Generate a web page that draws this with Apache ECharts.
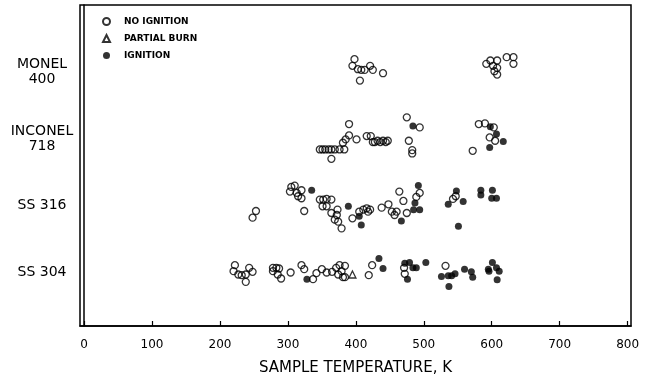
<!DOCTYPE html>
<html><head><meta charset="utf-8">
<script src="https://cdn.jsdelivr.net/npm/echarts@6/dist/echarts.min.js"></script>
<style>html,body{margin:0;padding:0;background:#fff}#c{width:653px;height:381px}</style>
</head><body><div id="c"></div>
<script>
// Row positions: 1 = SS 304, 2 = SS 316, 3 = INCONEL 718, 4 = MONEL 400 (fractional part = vertical scatter of the plotted symbol)
const categories = ['SS 304', 'SS 316', 'INCONEL\n718', 'MONEL\n400'];
const categoryRows = [1, 2, 3, 4];
const xTicks = [0, 100, 200, 300, 400, 500, 600, 700, 800];
const xTitle = 'SAMPLE TEMPERATURE, K';
const legendNames = ['NO IGNITION', 'PARTIAL BURN', 'IGNITION'];

// [temperature K, row]
const noIgnition = [
  // MONEL 400
  [398,4.19],[395,4.09],[403,4.04],[408,4.03],[413,4.03],[421,4.09],[425,4.03],[406,3.87],[440,3.98],
  [592,4.12],[598,4.17],[608,4.17],[602,4.09],[608,4.06],[604,4.01],[608,3.96],[622,4.22],[632,4.22],[632,4.12],
  // INCONEL 718
  [347,2.84],[351,2.84],[355,2.84],[360,2.84],[364,2.84],[369,2.84],[376,2.84],[383,2.84],
  [364,2.70],[381,2.94],[385,2.99],[390,3.05],[401,2.99],[390,3.22],[416,3.04],[422,3.04],[425,2.95],
  [428,2.95],[432,2.97],[436,2.95],[440,2.97],[444,2.95],[447,2.97],
  [475,3.32],[494,3.17],[478,2.97],[483,2.83],[483,2.78],
  [581,3.22],[590,3.23],[603,3.17],[597,3.02],[605,2.97],[572,2.82],
  // SS 316
  [248,1.82],[253,1.92],
  [305,2.28],[310,2.30],[303,2.21],[313,2.19],[320,2.23],[315,2.14],[320,2.11],[324,1.92],
  [347,2.09],[352,2.09],[357,2.10],[364,2.09],[351,1.99],[357,1.99],[364,1.89],[369,1.79],[374,1.76],
  [379,1.66],[373,1.94],[372,1.86],
  [395,1.81],[405,1.91],[411,1.94],[416,1.96],[421,1.94],[418,1.91],[438,1.97],[448,2.02],[453,1.91],
  [460,1.91],[457,1.86],[464,2.21],[470,2.07],[475,1.89],[494,2.19],[489,2.13],[543,2.10],[547,2.14],
  // SS 304
  [222,1.11],[220,1.02],[227,0.97],[232,0.96],[238,0.97],[243,1.07],[248,1.01],[238,0.86],
  [278,1.07],[283,1.07],[278,1.02],[287,1.06],[285,0.97],[290,0.91],[304,1.00],[320,1.11],[324,1.05],
  [337,0.90],[342,0.99],[350,1.05],[357,1.00],[365,1.01],[371,1.07],[376,1.11],[384,1.10],[379,1.02],
  [374,0.97],[384,0.93],[381,0.93],
  [424,1.11],[419,0.96],[471,1.07],[472,0.98],[532,1.10]
];
const partialBurn = [
  [395,0.97]
];
const ignition = [
  // INCONEL 718
  [484,3.19],[598,3.18],[607,3.07],[617,2.96],[597,2.87],
  // SS 316
  [335,2.23],[389,1.99],[405,1.84],[408,1.71],[467,1.77],
  [492,2.30],[487,2.04],[485,1.94],[494,1.94],
  [536,2.02],[548,2.22],[558,2.06],[551,1.69],
  [584,2.23],[584,2.16],[601,2.23],[600,2.11],[607,2.11],
  // SS 304
  [328,0.90],[434,1.21],[440,1.06],
  [472,1.14],[479,1.15],[484,1.07],[489,1.07],[476,0.90],[503,1.15],
  [526,0.94],[536,0.95],[541,0.95],[537,0.79],[546,0.98],[560,1.05],[570,1.01],[572,0.93],
  [595,1.05],[601,1.15],[607,1.07],[611,1.02],[608,0.89],[596,1.02]
];

const FONT = 'DejaVu Sans';
const chart = echarts.init(document.getElementById('c'), null, {renderer: 'canvas'});
const openStyle = {color: 'rgba(255,255,255,0)', borderColor: '#000', borderWidth: 1.3};
chart.setOption({
  animation: false,
  backgroundColor: '#fff',
  grid: {left: 80, right: 22, top: 5, bottom: 52, show: true, borderColor: '#000', borderWidth: 1.5, backgroundColor: 'transparent'},
  legend: {
    orient: 'vertical', left: 102, top: 17, itemWidth: 7, itemHeight: 7, itemGap: 8, padding: 0,
    data: legendNames,
    textStyle: {fontFamily: FONT, fontSize: 9, fontWeight: 'bold', color: '#000', padding: [0, 0, 0, 9]}
  },
  xAxis: {
    type: 'value', min: -6, max: 805,
    name: xTitle, nameLocation: 'middle', nameGap: 35,
    nameTextStyle: {fontFamily: FONT, fontSize: 15, color: '#000'},
    splitLine: {show: false},
    axisLine: {show: true, lineStyle: {color: '#000', width: 1.5}},
    axisTick: {show: true, inside: true, length: 5, customValues: xTicks, lineStyle: {color: '#000', width: 1.2}},
    axisLabel: {customValues: xTicks, margin: 13, fontFamily: FONT, fontSize: 12, color: '#000'}
  },
  yAxis: {
    type: 'value', min: 0.2, max: 5,
    splitLine: {show: false},
    axisLine: {show: true, lineStyle: {color: '#000', width: 1.5}},
    axisTick: {show: false},
    axisLabel: {
      customValues: categoryRows, margin: 38, align: 'center', lineHeight: 15,
      fontFamily: FONT, fontSize: 14, color: '#000',
      formatter: v => categories[categoryRows.indexOf(Math.round(v))] || ''
    }
  },
  series: [
    {name: legendNames[0], type: 'scatter', symbol: 'circle', symbolSize: 7, data: noIgnition, itemStyle: openStyle},
    {name: legendNames[1], type: 'scatter', symbol: 'triangle', symbolSize: 7, data: partialBurn, itemStyle: openStyle},
    {name: legendNames[2], type: 'scatter', symbol: 'circle', symbolSize: 7, data: ignition, itemStyle: {color: '#000'}}
  ]
});
</script></body></html>
